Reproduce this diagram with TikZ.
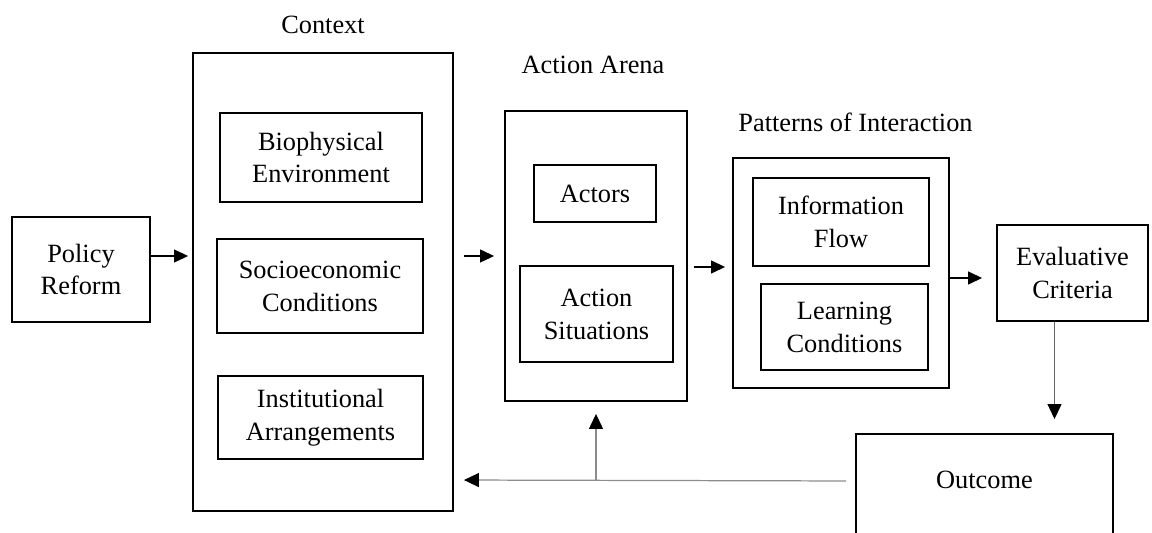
\documentclass[tikz,border=0pt]{standalone}
\usepackage{fontspec}
\setmainfont{Liberation Serif}
\usetikzlibrary{arrows.meta, positioning, calc}

\begin{document}
\begin{tikzpicture}[
    x=0.02cm, y=-0.02cm,
    box/.style={draw, line width=1.1pt, align=center, inner sep=0pt,
                font=\fontsize{15}{18.7}\selectfont},
    title/.style={font=\fontsize{15}{18.7}\selectfont},
    arr/.style={-{Triangle[length=0.28cm, width=0.26cm]}, line width=0.7pt,
                shorten <=0.2cm, shorten >=0.2cm},
    fb/.style={arr, draw=black!45,
               -{Triangle[length=0.3cm, width=0.28cm, color=black]}}
  ]

  \clip (0,0) rectangle (1152,533);

  % Input
  \node[box, minimum width=2.76cm, minimum height=2.1cm] (policy) at (81,269.5)
    {Policy\\Reform};

  % Context
  \node[box, minimum width=5.2cm, minimum height=9.16cm] (context) at (323,282) {};
  \node[title] (ctxtitle) at (323,25) {Context};
  \node[box, minimum width=4.04cm, minimum height=1.78cm] (bio) at (321,157.5)
    {Biophysical\\Environment};
  \node[box, minimum width=4.12cm, minimum height=1.88cm] (socio) at (320,286)
    {Socioeconomic\\Conditions};
  \node[box, minimum width=4.1cm, minimum height=1.66cm] (inst) at (320.5,417.5)
    {Institutional\\Arrangements};

  % Action arena
  \node[box, minimum width=3.64cm, minimum height=5.8cm] (arena) at (596,256) {};
  \node[title] (arenatitle) at (593,65) {Action Arena};
  \node[box, minimum width=2.44cm, minimum height=1.14cm] (actors) at (595,193.5)
    {Actors};
  \node[box, minimum width=3.06cm, minimum height=1.92cm] (situations) at (596.5,314)
    {Action\\Situations};

  % Patterns of interaction
  \node[box, minimum width=4.32cm, minimum height=4.6cm] (patterns) at (841,273) {};
  \node[title] (pattitle) at (855.5,122) {Patterns of Interaction};
  \node[box, minimum width=3.52cm, minimum height=1.76cm] (info) at (841,222)
    {Information\\Flow};
  \node[box, minimum width=3.34cm, minimum height=1.72cm] (learning) at (844.5,327)
    {Learning\\Conditions};

  % Evaluation and outcome
  \node[box, minimum width=3.02cm, minimum height=1.92cm] (eval) at (1072.5,273)
    {Evaluative\\Criteria};
  \node[box, draw=none, minimum width=5.1cm, minimum height=1.8cm] (outcome)
    at (984.5,480) {Outcome};
  \draw[line width=1.1pt] ([yshift=-1cm]outcome.south west) -- (outcome.north west)
    -- (outcome.north east) -- ([yshift=-1cm]outcome.south east);

  % Main flow
  \draw[arr, shorten <=0pt, shorten >=0.08cm]
    ([yshift=0.27cm]policy.east) -- ([yshift=0.27cm]policy.east -| context.west);
  \draw[arr] (arena.west -| context.east) -- (arena.west);
  \draw[arr, shorten <=0.12cm, shorten >=0.14cm]
    ([yshift=-0.22cm]arena.east) -- ([yshift=-0.22cm]arena.east -| patterns.west);
  \draw[arr, shorten <=0pt, shorten >=0.28cm]
    ([yshift=-0.1cm]patterns.east) -- ([yshift=-0.1cm]patterns.east -| eval.west);
  \draw[arr, draw=black!60, shorten <=0pt, shorten >=0.3cm,
        -{Triangle[length=0.3cm, width=0.28cm, color=black]}]
    ([xshift=-0.36cm]eval.south) -- ([xshift=-0.36cm]eval.south |- outcome.north);

  % Feedback
  \coordinate (split) at (arena.south |- outcome.west);
  \draw[fb, shorten >=0.2cm] ([yshift=-0.02cm]outcome.west) -- (outcome.west -| context.east);
  \draw[fb, shorten <=0pt, shorten >=0.24cm] (split) -- (arena.south);

\end{tikzpicture}
\end{document}
